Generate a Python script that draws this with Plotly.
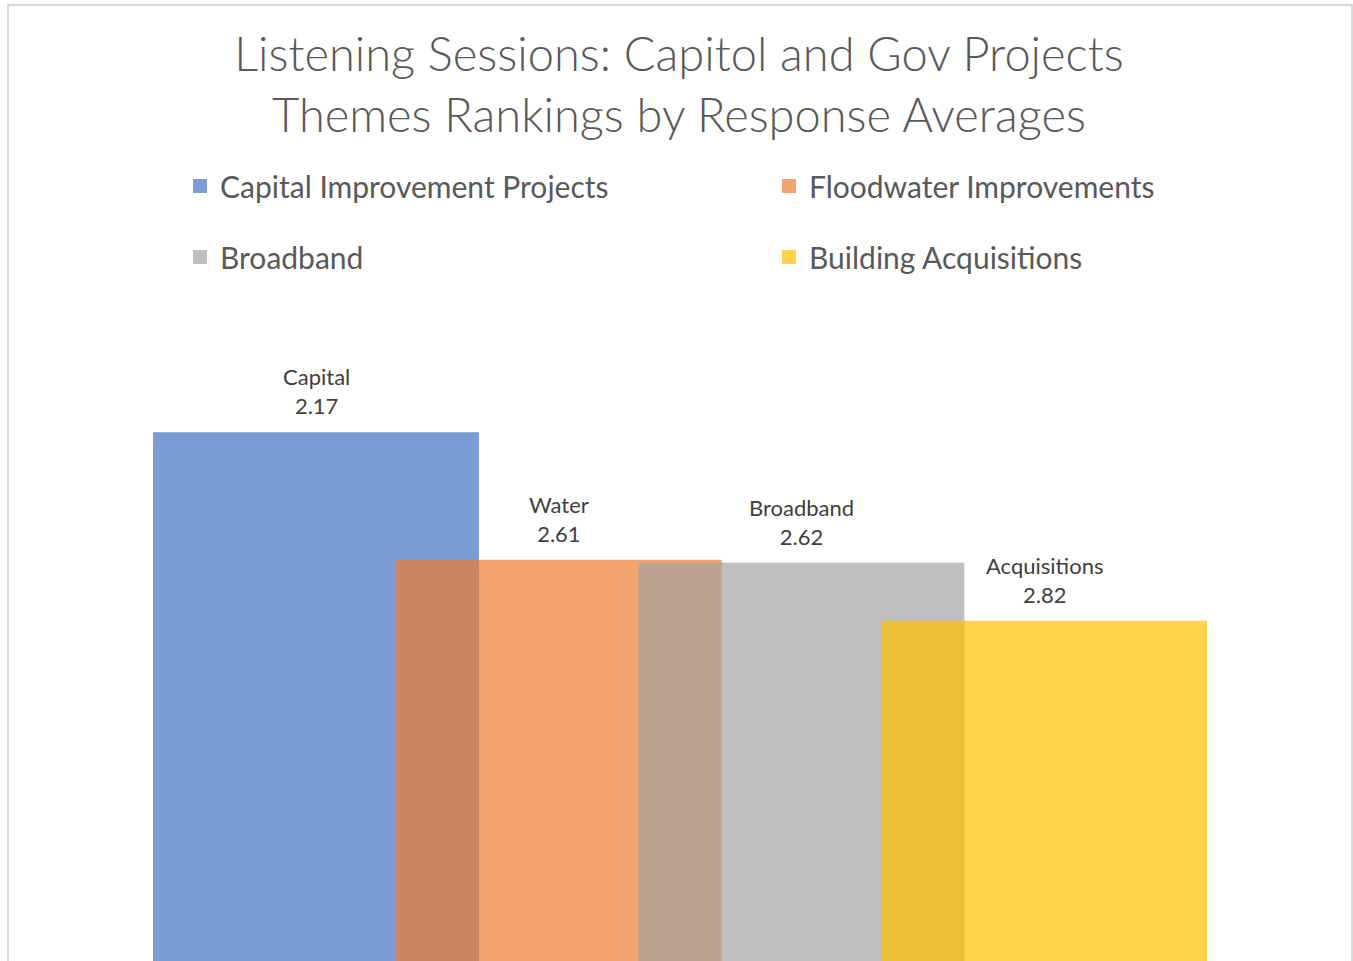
import plotly.graph_objects as go

# ---- data ----
series_names = ["Capital Improvement Projects", "Floodwater Improvements", "Broadband", "Building Acquisitions"]
label_names = ["Capital", "Water", "Broadband", "Acquisitions"]
values = [2.17, 2.61, 2.62, 2.82]
axis_max = 4.0
colors = ["#4472C4", "#ED7D31", "#A5A5A5", "#FFC000"]
legend_ids = ["legend", "legend2", "legend3", "legend4"]

W, H = 1353, 961
FONT = "Lato"

fig = go.Figure()
for i, (name, v) in enumerate(zip(series_names, values)):
    fig.add_trace(go.Bar(
        x=[i], y=[v - axis_max], base=[axis_max], width=1.335,
        name=name, marker=dict(color=colors[i], line=dict(color=colors[i], width=2)),
        opacity=0.7, legend=legend_ids[i], hoverinfo="skip",
    ))
    fig.add_annotation(
        x=i, y=v, xref="x", yref="y", text=f"{label_names[i]}<br>{v:.2f}",
        showarrow=False, yanchor="bottom", yshift=12,
        font=dict(family=FONT, size=22, color="#404040"),
    )

legend_pos = [(180, 186), (769, 186), (180, 257), (769, 257)]
legends = {}
for k, (lid, (lx, ly)) in enumerate(zip(legend_ids, legend_pos)):
    legends[lid] = dict(
        orientation="h", x=lx / W, xanchor="left", y=1 - ly / H, yanchor="middle",
        font=dict(family=FONT, size=30, color="#595959"), bgcolor="rgba(0,0,0,0)",
    )

fig.update_layout(
    width=W, height=H,
    margin=dict(l=0, r=0, t=0, b=0, autoexpand=False),
    paper_bgcolor="white", plot_bgcolor="white",
    barmode="overlay",
    title=dict(
        text="Listening Sessions: Capitol and Gov Projects<br>Themes Rankings by Response Averages",
        x=679 / W, xanchor="center", y=1 - 71 / H, yanchor="top", yref="container",
        font=dict(family=FONT, size=47, color="#595959", weight=300),
    ),
    xaxis=dict(range=[-316 / 242.67, (W - 316) / 242.67], visible=False, domain=[0, 1]),
    yaxis=dict(range=[3.99, 1.711], visible=False, domain=[0, 1 - 300 / H]),
    shapes=[dict(
        type="rect", xref="paper", yref="paper",
        x0=8 / W, x1=1352 / W, y0=-0.1, y1=1 - 5 / H,
        line=dict(color="#D9D9D9", width=2), fillcolor="rgba(0,0,0,0)", layer="above",
    )],
    showlegend=True,
    **legends,
)

fig.write_html("out.html", config={"displayModeBar": False},
               post_script="document.body.style.margin='0';")
